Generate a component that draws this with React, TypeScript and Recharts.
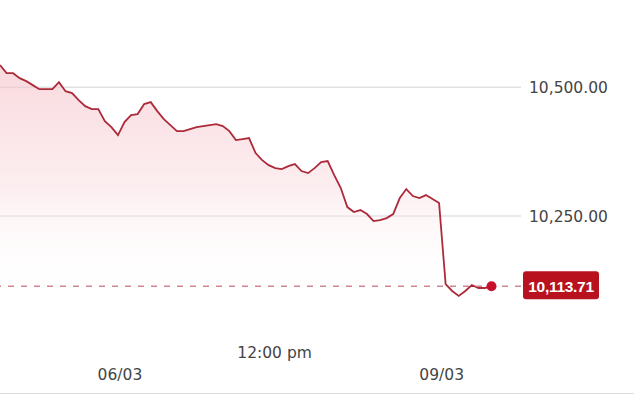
import React from "react";
import {
  AreaChart,
  Area,
  XAxis,
  YAxis,
  CartesianGrid,
  ReferenceLine,
  ReferenceDot,
} from "recharts";

// index values (one point per step)
const prices = [
  10542.6, 10527.1, 10527.1, 10517.4, 10511.6, 10503.9, 10496.1, 10496.1, 10496.1, 10509.7,
  10492.2, 10488.4, 10474.8, 10463.2, 10457.4, 10457.4, 10434.1, 10422.5, 10407.0, 10432.2,
  10445.7, 10447.7, 10467.1, 10470.9, 10453.5, 10438.0, 10426.4, 10414.7, 10414.7, 10418.6,
  10422.5, 10424.4, 10426.4, 10428.3, 10424.4, 10414.7, 10397.3, 10399.2, 10401.2, 10372.1,
  10358.5, 10348.8, 10343.0, 10341.1, 10346.9, 10350.8, 10337.2, 10333.3, 10343.0, 10354.7,
  10356.6, 10329.5, 10304.3, 10267.4, 10257.8, 10261.6, 10253.9, 10240.3, 10242.2, 10246.1,
  10253.9, 10284.9, 10302.3, 10288.8, 10284.9, 10290.7, 10282.9, 10275.2, 10118.0, 10104.7,
  10095.0, 10104.7, 10116.3, 10110.5, 10110.5, 10113.71,
];

const lastPrice = 10113.71;
const yTicks = [10250, 10500];
const xTickPositions = [18.3, 41.9, 67.4];
const xTickLabels = ["06/03", "12:00 pm", "09/03"];
const xTickRow = [1, 0, 1]; // 0 = upper row, 1 = lower row

const data = prices.map((v, i) => ({ t: i, v }));

const fmt = (n: number) =>
  n.toLocaleString("en-US", { minimumFractionDigits: 2, maximumFractionDigits: 2 });

const XTick = (props: any) => {
  const { x, y, payload } = props;
  const idx = xTickPositions.indexOf(payload.value);
  const row = xTickRow[idx] ?? 0;
  return (
    <text
      x={x}
      y={y + (row === 0 ? 20 : 41.5)}
      textAnchor="middle"
      fill="#444"
      fontSize={15.5}
      fontFamily="DejaVu Sans, sans-serif"
    >
      {xTickLabels[idx]}
    </text>
  );
};

const PriceLabel = (props: any) => {
  const vb = props.viewBox || {};
  const x = vb.x + vb.width + 2;
  const y = vb.y;
  return (
    <g>
      <rect x={x} y={y - 15} width={76} height={28} rx={3} fill="#b8121f" />
      <text
        x={x + 38}
        y={y + 5.5}
        textAnchor="middle"
        fill="#fff"
        fontSize={15.5}
        fontWeight="bold"
        fontFamily="Liberation Sans, Arial, sans-serif"
        letterSpacing={-0.3}
      >
        {fmt(lastPrice)}
      </text>
    </g>
  );
};

export default function App() {
  return (
    <div style={{ position: "absolute", left: 0, top: 0, width: 634, height: 397, background: "#fff" }}>
      <AreaChart width={634} height={397} data={data} margin={{ top: 0, right: 0, bottom: 0, left: 0 }}>
        <defs>
          <linearGradient id="fillRed" x1="0" y1="0" x2="0" y2="1">
            <stop offset="0%" stopColor="#f5c0c8" stopOpacity={1} />
            <stop offset="45%" stopColor="#f9dce0" stopOpacity={0.85} />
            <stop offset="88%" stopColor="#ffffff" stopOpacity={0} />
          </linearGradient>
        </defs>
        <CartesianGrid
          horizontal
          vertical={false}
          horizontalValues={yTicks}
          stroke="#e2e2e2"
          strokeWidth={1.5}
        />
        <XAxis
          dataKey="t"
          type="number"
          domain={[0, 79.5]}
          ticks={xTickPositions}
          axisLine={false}
          tickLine={false}
          height={67}
          tick={<XTick />}
          interval={0}
        />
        <YAxis
          orientation="right"
          width={113}
          domain={[10029, 10669]}
          ticks={yTicks}
          allowDataOverflow
          axisLine={false}
          tickLine={false}
          tickFormatter={fmt}
          tick={{ fill: "#444", fontSize: 15.5, fontFamily: "DejaVu Sans, sans-serif" }}
        />
        <Area
          type="linear"
          dataKey="v"
          stroke="#ad2a3a"
          strokeWidth={1.8}
          fill="url(#fillRed)"
          isAnimationActive={false}
          dot={false}
          activeDot={false}
        />
        <ReferenceLine
          y={lastPrice}
          stroke="#cf8690"
          strokeWidth={1.5}
          strokeDasharray="6 7"
          label={<PriceLabel />}
        />
        <ReferenceDot x={prices.length - 1} y={lastPrice} r={5} fill="#c8102e" stroke="none" />
      </AreaChart>
      <div style={{ position: "absolute", left: 0, top: 393, width: 634, height: 1, background: "#dcdcdc" }} />
    </div>
  );
}
